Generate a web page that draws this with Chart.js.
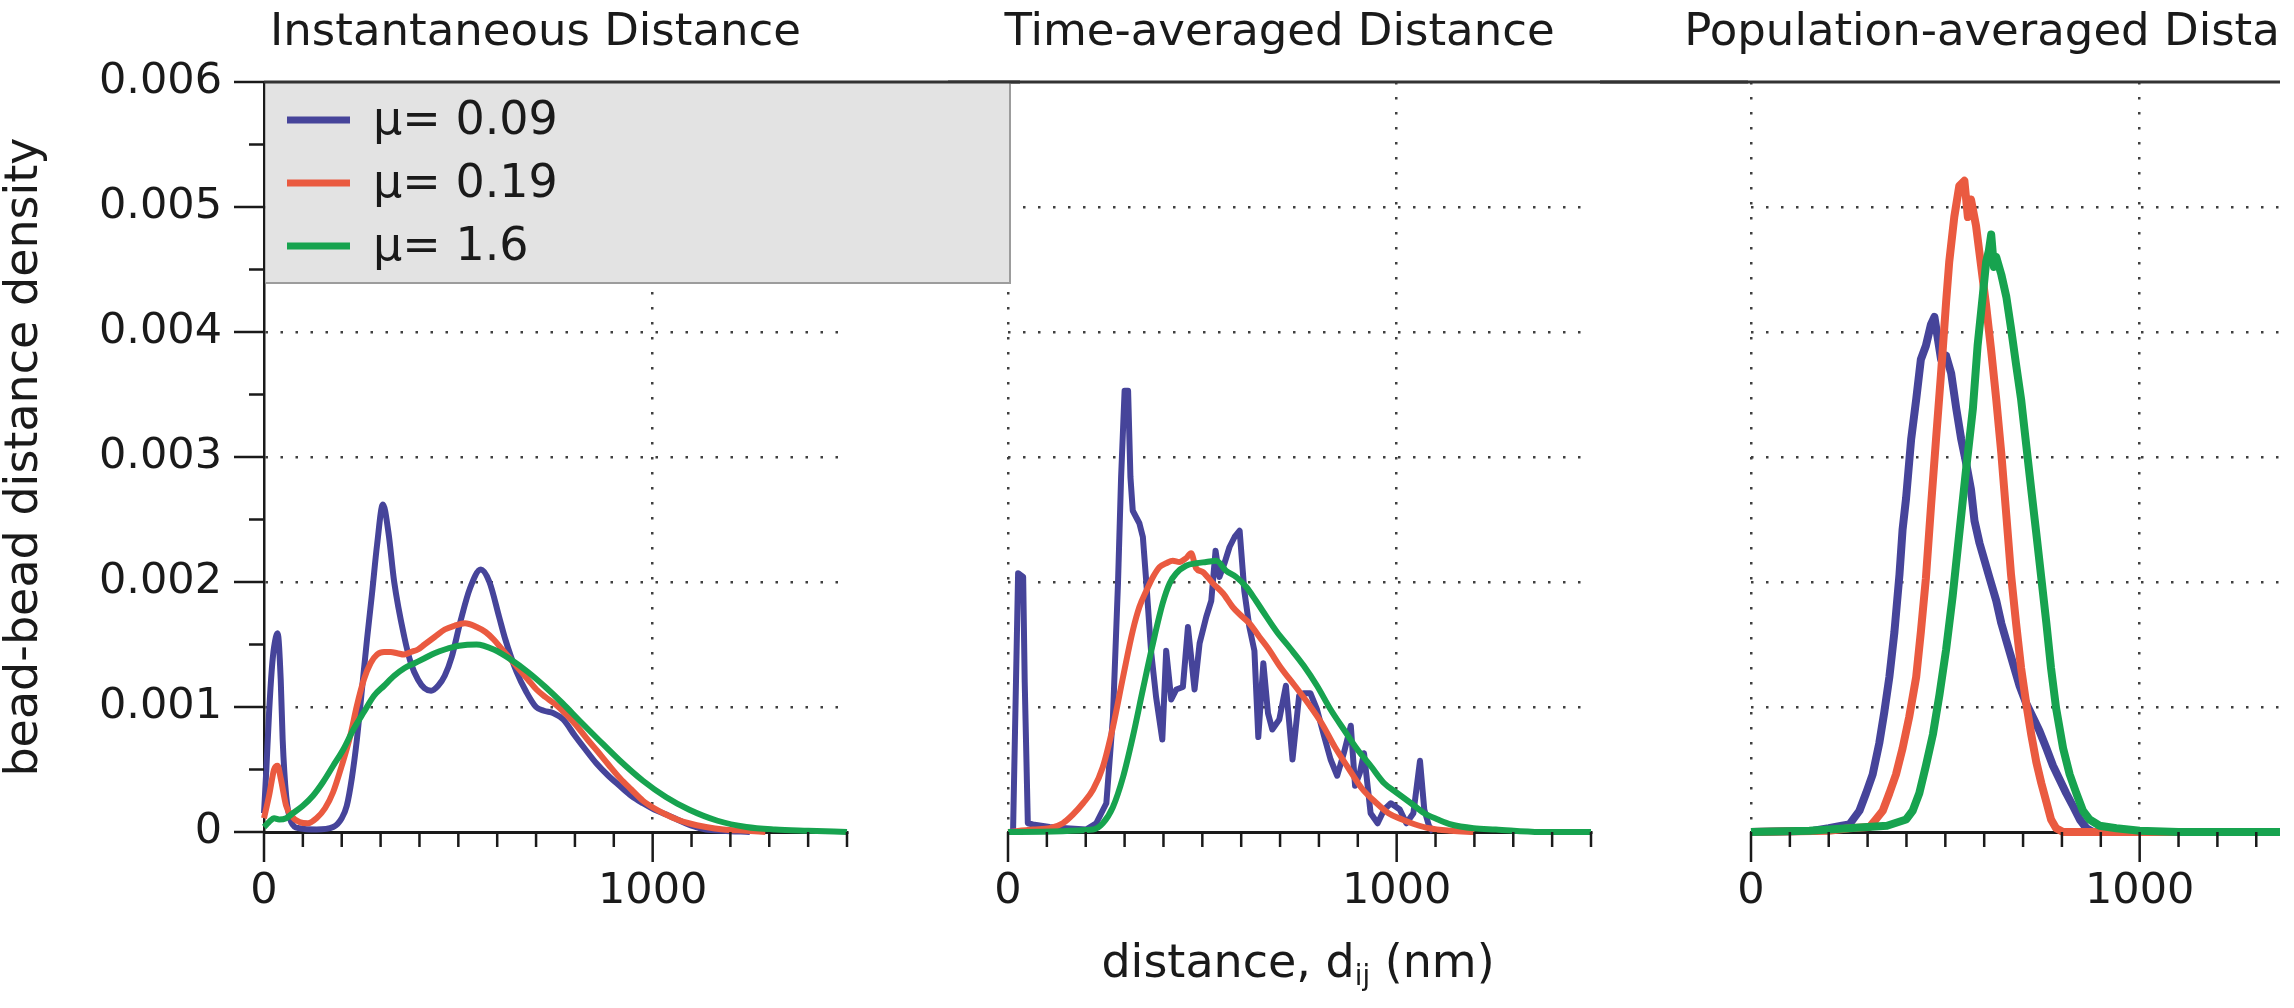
<!DOCTYPE html>
<html>
<head>
<meta charset="utf-8">
<script src="https://cdn.jsdelivr.net/npm/chart.js@4.4.1/dist/chart.umd.min.js"></script>
<style>
  html, body { margin: 0; padding: 0; background: #fff; }
  #stage { position: relative; width: 2294px; height: 1008px; overflow: hidden; }
  canvas { position: absolute; top: 0; }
  #c1 { left: 0; z-index: 3; }
  #c2 { left: 948px; z-index: 2; }
  #wrap3 { position: absolute; left: 1600px; top: 0; width: 680px; height: 1008px; overflow: hidden; z-index: 1; }
  #c3 { left: 0; }
  #xlabel {
    position: absolute; left: 1098px; top: 938px; width: 400px; z-index: 4;
    text-align: center; font: 46px/46px "DejaVu Sans", sans-serif; color: #1a1a1a; white-space: nowrap;
  }
  #xlabel sub { font-size: 0.6em; vertical-align: -0.3em; line-height: 0; }
</style>
</head>
<body>
<div id="stage">
  <canvas id="c1" width="1020" height="1008" style="width:1020px;height:1008px"></canvas>
  <canvas id="c2" width="800" height="1008" style="width:800px;height:1008px"></canvas>
  <div id="wrap3"><canvas id="c3" width="840" height="1008" style="width:840px;height:1008px"></canvas></div>
  <div id="xlabel">distance, d<sub>ij</sub> (nm)</div>
</div>
<script>
// series labels, one per mu value
const seriesLabels = ["μ= 0.09", "μ= 0.19", "μ= 1.6"];
const panelTitles = ["Instantaneous Distance", "Time-averaged Distance", "Population-averaged Distance"];

// --- Instantaneous distance (x in nm, y = density) ---
const instX09 = [0, 6, 13, 20, 26, 35, 43, 48, 57, 70, 91, 135, 178, 200, 213, 226, 239, 252, 265, 278, 291, 306, 320, 335, 361, 378, 396, 413, 430, 448, 465, 483, 505, 530, 558, 580, 605, 620, 650, 675, 700, 720, 745, 770, 800, 827, 855, 886, 915, 945, 975, 1004, 1035, 1063, 1100, 1137, 1180, 1250];
const inst09 = [0.00015, 0.0005, 0.00095, 0.0013, 0.00148, 0.00159, 0.00122, 0.00074, 0.00029, 0.00008, 0.00003, 0.00002, 0.00004, 0.00011, 0.00021, 0.00043, 0.00074, 0.00114, 0.00154, 0.00191, 0.0023, 0.00262, 0.0024, 0.002, 0.00156, 0.00135, 0.00122, 0.00115, 0.00113, 0.00117, 0.00125, 0.0014, 0.00168, 0.00195, 0.0021, 0.002, 0.00172, 0.00155, 0.00128, 0.00112, 0.001, 0.00097, 0.00095, 0.0009, 0.00077, 0.00066, 0.00055, 0.00045, 0.00037, 0.00029, 0.00023, 0.00018, 0.00014, 0.0001, 0.00005, 0.00002, 0.00001, 0];
const instX19 = [0, 13, 26, 35, 43, 57, 70, 91, 113, 135, 157, 178, 200, 222, 239, 257, 274, 291, 309, 326, 343, 361, 378, 396, 413, 439, 465, 490, 517, 547, 570, 591, 613, 635, 657, 679, 701, 724, 746, 768, 790, 812, 835, 857, 886, 916, 945, 975, 1004, 1034, 1063, 1093, 1137, 1182, 1240, 1290];
const inst19 = [0.00011, 0.00029, 0.0005, 0.00053, 0.00043, 0.00021, 0.00013, 0.00008, 0.00007, 0.00011, 0.00019, 0.00032, 0.00053, 0.00077, 0.00101, 0.00122, 0.00135, 0.00142, 0.00144, 0.00144, 0.00143, 0.00142, 0.00144, 0.00146, 0.0015, 0.00156, 0.00162, 0.00165, 0.00167, 0.00164, 0.0016, 0.00154, 0.00146, 0.00138, 0.0013, 0.00122, 0.00114, 0.00108, 0.00103, 0.00097, 0.0009, 0.00082, 0.00073, 0.00065, 0.00054, 0.00043, 0.00034, 0.00025, 0.00019, 0.00014, 0.0001, 0.00007, 0.00004, 0.00002, 0.00001, 0];
const instX16 = [0, 13, 26, 39, 57, 74, 100, 126, 152, 178, 204, 230, 257, 283, 309, 335, 361, 387, 413, 439, 465, 502, 547, 591, 635, 679, 724, 768, 812, 857, 916, 975, 1034, 1093, 1167, 1241, 1315, 1400, 1500];
const inst16 = [0.00004, 0.00008, 0.00011, 0.0001, 0.00011, 0.00015, 0.00021, 0.00029, 0.0004, 0.00053, 0.00066, 0.00082, 0.00096, 0.00109, 0.00117, 0.00125, 0.00131, 0.00135, 0.00139, 0.00143, 0.00146, 0.00149, 0.0015, 0.00146, 0.00138, 0.00128, 0.00116, 0.00103, 0.00089, 0.00075, 0.00057, 0.00041, 0.00028, 0.00018, 0.00009, 0.00004, 0.00002, 0.00001, 0];

// --- Time-averaged distance ---
const timeX09 = [0, 13, 26, 39, 43, 51, 64, 107, 150, 201, 227, 253, 270, 283, 291, 300, 309, 315, 321, 338, 347, 356, 368, 381, 397, 407, 420, 433, 450, 463, 480, 493, 510, 523, 534, 544, 557, 570, 583, 596, 608, 621, 634, 644, 657, 669, 680, 698, 715, 732, 749, 761, 778, 795, 813, 830, 847, 864, 882, 893, 905, 916, 933, 951, 968, 985, 1008, 1025, 1043, 1060, 1071, 1083, 1094];
const time09 = [0, 0, 0.00207, 0.00204, 0.0012, 0.00007, 0.00006, 0.00004, 0.00003, 0.00002, 0.00007, 0.00023, 0.00092, 0.00199, 0.00284, 0.00353, 0.00353, 0.00284, 0.00257, 0.00247, 0.00236, 0.00199, 0.00145, 0.00108, 0.00074, 0.00145, 0.00106, 0.00114, 0.00116, 0.00164, 0.00114, 0.00151, 0.00172, 0.00185, 0.00225, 0.00204, 0.00215, 0.00228, 0.00236, 0.00241, 0.00193, 0.00164, 0.00145, 0.00076, 0.00135, 0.00095, 0.00082, 0.0009, 0.00117, 0.00058, 0.00109, 0.00111, 0.00111, 0.00098, 0.00077, 0.00058, 0.00045, 0.00063, 0.00085, 0.00037, 0.00047, 0.00063, 0.00015, 0.00007, 0.00018, 0.00023, 0.00018, 0.00007, 0.00015, 0.00057, 0.00018, 0.00005, 0];
const timeX19 = [0, 64, 107, 141, 167, 193, 219, 244, 270, 296, 321, 338, 356, 373, 390, 407, 424, 441, 458, 471, 484, 501, 527, 553, 578, 600, 621, 647, 669, 703, 738, 772, 807, 841, 876, 910, 945, 979, 1014, 1048, 1083, 1140, 1200];
const time19 = [0, 0.00002, 0.00003, 0.00007, 0.00014, 0.00023, 0.00034, 0.00052, 0.00084, 0.00124, 0.00161, 0.0018, 0.00193, 0.00204, 0.00212, 0.00215, 0.00217, 0.00216, 0.00219, 0.00223, 0.00211, 0.00208, 0.00199, 0.00191, 0.0018, 0.00173, 0.00167, 0.00156, 0.00147, 0.00131, 0.00117, 0.00103, 0.00087, 0.00068, 0.00051, 0.00035, 0.00024, 0.00015, 0.0001, 0.00006, 0.00003, 0.00001, 0];
const timeX16 = [0, 219, 244, 270, 296, 321, 347, 373, 398, 416, 433, 458, 484, 510, 536, 561, 587, 613, 638, 657, 692, 726, 761, 795, 830, 864, 899, 933, 968, 1002, 1037, 1071, 1106, 1140, 1198, 1255, 1370, 1500];
const time16 = [0, 0.00002, 0.00007, 0.0002, 0.00044, 0.00076, 0.00114, 0.00151, 0.00183, 0.00199, 0.00207, 0.00213, 0.00215, 0.00216, 0.00217, 0.00209, 0.00204, 0.00196, 0.00185, 0.00176, 0.0016, 0.00147, 0.00133, 0.00117, 0.00098, 0.00082, 0.00066, 0.00053, 0.00039, 0.00031, 0.00023, 0.00015, 0.0001, 0.00006, 0.00003, 0.00002, 0, 0];

// --- Population-averaged distance ---
const popX09 = [0, 161, 200, 234, 253, 279, 296, 313, 330, 343, 356, 369, 382, 390, 399, 412, 425, 437, 450, 463, 472, 480, 489, 502, 515, 528, 541, 553, 566, 575, 588, 601, 614, 631, 644, 657, 674, 691, 708, 725, 742, 760, 777, 794, 811, 828, 846, 863, 880, 1000, 1500];
const pop09 = [0, 0.00001, 0.00003, 0.00005, 0.00006, 0.00017, 0.00031, 0.00046, 0.00071, 0.00096, 0.00124, 0.0016, 0.00206, 0.00242, 0.00267, 0.00314, 0.00346, 0.00378, 0.00389, 0.00406, 0.00412, 0.00396, 0.00378, 0.00381, 0.00367, 0.00339, 0.00314, 0.00296, 0.00274, 0.00249, 0.00231, 0.00217, 0.00203, 0.00185, 0.00167, 0.00153, 0.00135, 0.00117, 0.00103, 0.00092, 0.00081, 0.00067, 0.00053, 0.00042, 0.00031, 0.00021, 0.0001, 0.00003, 0, 0, 0];
const popX19 = [0, 200, 253, 305, 321, 339, 356, 373, 390, 407, 425, 437, 450, 463, 476, 489, 502, 510, 523, 536, 549, 558, 566, 579, 592, 605, 618, 631, 644, 657, 669, 682, 695, 708, 721, 734, 747, 760, 772, 785, 803, 1500];
const pop19 = [0, 0.00001, 0.00003, 0.00004, 0.0001, 0.00017, 0.00031, 0.00046, 0.00067, 0.00092, 0.00124, 0.0016, 0.00203, 0.0026, 0.00314, 0.00367, 0.00424, 0.00456, 0.00492, 0.00517, 0.00521, 0.00492, 0.00506, 0.00485, 0.00453, 0.00421, 0.00385, 0.00346, 0.00303, 0.00253, 0.00206, 0.00167, 0.00131, 0.00103, 0.00078, 0.00056, 0.00039, 0.00024, 0.0001, 0.00003, 0, 0];
const popX16 = [0, 150, 250, 300, 350, 399, 416, 433, 450, 468, 485, 502, 519, 536, 553, 571, 583, 596, 605, 612, 618, 625, 631, 644, 657, 669, 682, 695, 708, 721, 734, 747, 760, 772, 785, 803, 820, 837, 854, 871, 897, 940, 1000, 1100, 1500];
const pop16 = [0, 0.00001, 0.00003, 0.00004, 0.00005, 0.0001, 0.00017, 0.00031, 0.00053, 0.00078, 0.0011, 0.00146, 0.00189, 0.00239, 0.00289, 0.00339, 0.00389, 0.00428, 0.00456, 0.00465, 0.00478, 0.00452, 0.0046, 0.00446, 0.00428, 0.00403, 0.00374, 0.00346, 0.0031, 0.00274, 0.00239, 0.00203, 0.00167, 0.00131, 0.00099, 0.00067, 0.00046, 0.00031, 0.00017, 0.0001, 0.00005, 0.00003, 0.00001, 0, 0];

const FONT = '"DejaVu Sans", "Liberation Sans", sans-serif';
const INK = "#1a1a1a";
const DOT = "#3f3f3f";
const colors = ["#46449a", "#ea5a40", "#17a34f"];

Chart.defaults.font.family = FONT;
Chart.defaults.color = INK;

const pts = (xs, ys) => xs.map((x, i) => ({ x: x, y: ys[i] }));
const isMajorY = (v) => Math.abs(v * 1000 - Math.round(v * 1000)) < 1e-6;

// tick marks (long major / short minor), the frame line on top, panel title, legend box
const deco = {
  id: "deco",
  afterDraw(chart, args, o) {
    const { ctx, chartArea: a } = chart;
    const xs = chart.scales.x, ys = chart.scales.y;
    ctx.save();
    ctx.strokeStyle = INK;
    ctx.lineWidth = 2.5;
    ctx.beginPath();
    xs.ticks.forEach((t) => {
      const px = xs.getPixelForValue(t.value);
      const len = t.value % 1000 === 0 ? 30 : 15;
      ctx.moveTo(px, a.bottom);
      ctx.lineTo(px, a.bottom + len);
    });
    if (o.yTicks) {
      ys.ticks.forEach((t) => {
        const py = ys.getPixelForValue(t.value);
        const len = isMajorY(t.value) ? 30 : 15;
        ctx.moveTo(a.left, py);
        ctx.lineTo(a.left - len, py);
      });
    }
    ctx.stroke();

    if (o.legend) {
      const l = a.left + 1.5, t = a.top, r = a.left + 746, b = a.top + 201;
      ctx.fillStyle = "#e3e3e3";
      ctx.fillRect(l, t, r - l, b - t);
      ctx.strokeStyle = "#9c9c9c";
      ctx.lineWidth = 2;
      ctx.beginPath();
      ctx.moveTo(r, t);
      ctx.lineTo(r, b);
      ctx.lineTo(l, b);
      ctx.stroke();
      ctx.font = "46px " + FONT;
      ctx.textAlign = "left";
      ctx.textBaseline = "middle";
      chart.data.datasets.forEach((ds, i) => {
        const y = a.top + 38 + i * 63;
        ctx.strokeStyle = ds.borderColor;
        ctx.lineWidth = 7;
        ctx.beginPath();
        ctx.moveTo(a.left + 23, y);
        ctx.lineTo(a.left + 86, y);
        ctx.stroke();
        ctx.fillStyle = INK;
        ctx.fillText(ds.label, a.left + 109, y + 2);
      });
    }

    // frame line running across the top of all panels
    ctx.strokeStyle = "#333";
    ctx.lineWidth = 3;
    ctx.beginPath();
    ctx.moveTo(o.yTicks ? a.left : 0, a.top);
    ctx.lineTo(chart.width, a.top);
    ctx.stroke();

    ctx.fillStyle = INK;
    ctx.font = "45px " + FONT;
    ctx.textAlign = "center";
    ctx.textBaseline = "alphabetic";
    ctx.fillText(o.title, (a.left + a.right) / 2 - 20, 45);
    ctx.restore();
  }
};

function panel(id, series, o) {
  return new Chart(document.getElementById(id), {
    type: "line",
    data: {
      datasets: series.map((s, i) => ({
        label: seriesLabels[i],
        data: pts(s.x, s.y),
        borderColor: colors[i],
        backgroundColor: colors[i],
        borderWidth: o.lineWidth,
        pointRadius: 0,
        order: 2 - i,
        tension: 0,
        cubicInterpolationMode: s.smooth ? "monotone" : "default",
        borderJoinStyle: "round",
        clip: 10
      }))
    },
    plugins: [deco],
    options: {
      responsive: false,
      animation: false,
      devicePixelRatio: 1,
      layout: { padding: { top: 82, right: o.padRight, bottom: 0, left: 0 } },
      plugins: {
        legend: { display: false },
        title: { display: false },
        tooltip: { enabled: false },
        deco: { title: o.title, yTicks: o.yTicks, legend: o.legend }
      },
      scales: {
        x: {
          type: "linear",
          min: 0,
          max: 1500,
          afterFit: (s) => { s.height = 176; },
          ticks: {
            stepSize: 100,
            autoSkip: false,
            maxRotation: 0,
            includeBounds: false,
            padding: 34,
            color: INK,
            font: { size: 43, lineHeight: 1.2 },
            callback: (v) => (v % 1000 === 0 ? String(v) : "")
          },
          grid: {
            drawTicks: false,
            lineWidth: 2.5,
            color: (c) => {
              if (!c.tick) return "transparent";
              const v = c.tick.value;
              return v === 1000 || (v === 0 && !o.yTicks) ? DOT : "transparent";
            }
          },
          border: { display: true, color: INK, width: 3, dash: [2.5, 12.5] }
        },
        y: {
          type: "linear",
          min: 0,
          max: 0.006,
          afterFit: (s) => { s.width = o.yWidth; },
          ticks: {
            display: o.yTicks,
            stepSize: 0.0005,
            autoSkip: false,
            padding: 42,
            color: INK,
            font: { size: 43 },
            callback: (v) => (isMajorY(v) ? (v === 0 ? "0" : v.toFixed(3)) : "")
          },
          grid: {
            drawTicks: false,
            lineWidth: 2.5,
            color: (c) => {
              if (!c.tick) return "transparent";
              const v = c.tick.value;
              return isMajorY(v) && v > 0.0001 && v < 0.0059 ? DOT : "transparent";
            }
          },
          border: { display: o.yTicks, color: INK, width: 2.5, dash: [2.5, 12.5] },
          title: {
            display: o.yTicks,
            text: "bead-bead distance density",
            color: INK,
            font: { size: 46, lineHeight: 1 },
            padding: { top: 2, bottom: 0 }
          }
        }
      }
    }
  });
}

// chart areas: panel 1 x 264..847, panel 2 x 1008..1591, panel 3 x 1751..2334 (page px)
panel("c1", [
  { x: instX09, y: inst09, smooth: true },
  { x: instX19, y: inst19, smooth: true },
  { x: instX16, y: inst16, smooth: true }
], { title: panelTitles[0], yTicks: true, legend: true, yWidth: 264, padRight: 173, lineWidth: 6 });

panel("c2", [
  { x: timeX09, y: time09, smooth: false },
  { x: timeX19, y: time19, smooth: true },
  { x: timeX16, y: time16, smooth: true }
], { title: panelTitles[1], yTicks: false, legend: false, yWidth: 60, padRight: 157, lineWidth: 6 });

panel("c3", [
  { x: popX09, y: pop09, smooth: false },
  { x: popX19, y: pop19, smooth: false },
  { x: popX16, y: pop16, smooth: false }
], { title: panelTitles[2], yTicks: false, legend: false, yWidth: 151, padRight: 106, lineWidth: 8 });
</script>
</body>
</html>
